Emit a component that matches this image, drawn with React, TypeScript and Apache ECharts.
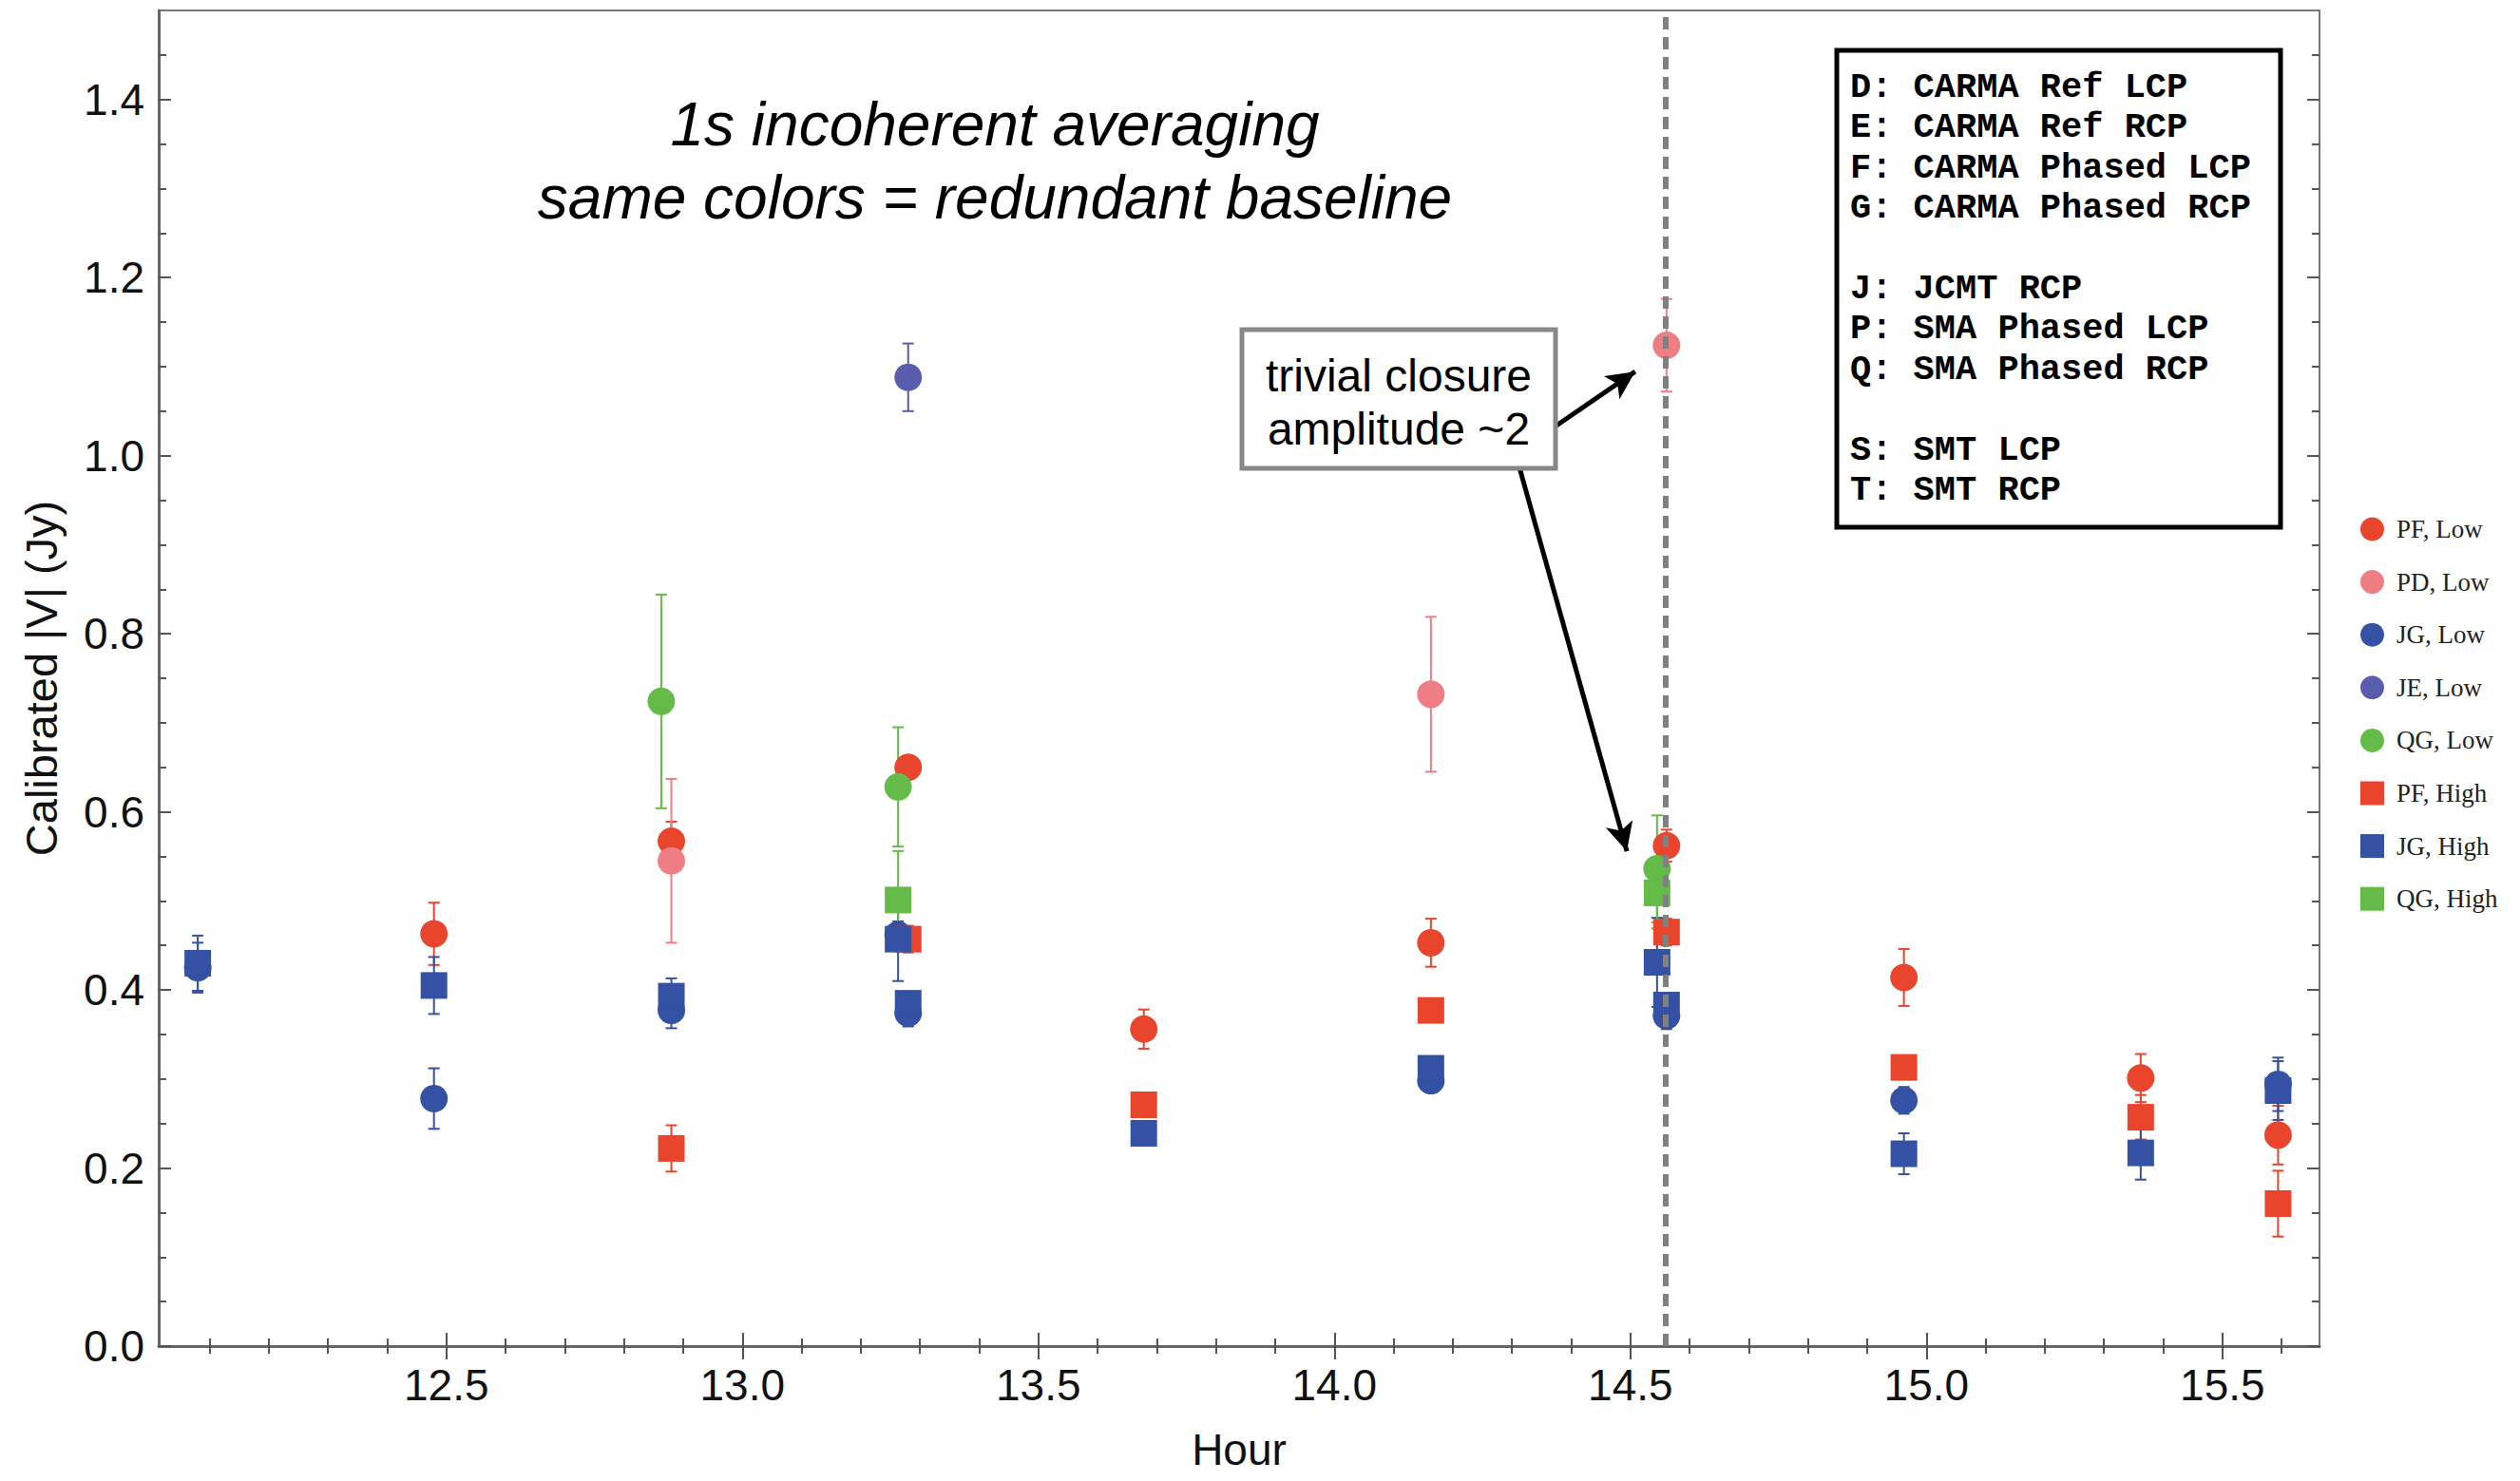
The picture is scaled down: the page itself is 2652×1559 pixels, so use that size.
import React, { useEffect, useRef } from "react";
import * as echarts from "echarts";

// ---- axis ranges & ticks ----
const X_MIN = 12.014;
const X_MAX = 15.664;
const Y_MIN = 0;
const Y_MAX = 1.5;
const xMajorTicks = [12.5, 13.0, 13.5, 14.0, 14.5, 15.0, 15.5];
const xMinorTicks = [12.1, 12.2, 12.3, 12.4, 12.6, 12.7, 12.8, 12.9, 13.1, 13.2, 13.3, 13.4, 13.6, 13.7, 13.8, 13.9, 14.1, 14.2, 14.3, 14.4, 14.6, 14.7, 14.8, 14.9, 15.1, 15.2, 15.3, 15.4, 15.6];
const yMajorTicks = [0, 0.2, 0.4, 0.6, 0.8, 1.0, 1.2, 1.4];
const yMinorTicks = [0.05, 0.1, 0.15, 0.25, 0.3, 0.35, 0.45, 0.5, 0.55, 0.65, 0.7, 0.75, 0.85, 0.9, 0.95, 1.05, 1.1, 1.15, 1.25, 1.3, 1.35, 1.45];

// ---- series: [hour, |V|, error] ----
const pfLow = [
  [12.479, 0.463, 0.035], [12.88, 0.567, 0.022], [13.28, 0.65, 0.01], [13.678, 0.356, 0.022],
  [14.163, 0.453, 0.027], [14.561, 0.562, 0.018], [14.962, 0.414, 0.032], [15.362, 0.301, 0.027],
  [15.594, 0.237, 0.033],
];
const pdLow = [[12.88, 0.545, 0.092], [14.163, 0.732, 0.087], [14.561, 1.124, 0.052]];
const jgLow = [
  [12.08, 0.425, 0.028], [12.479, 0.278, 0.034], [12.88, 0.377, 0.02], [13.263, 0.462, 0.015],
  [13.28, 0.374, 0.015], [14.163, 0.298, 0.012], [14.561, 0.371, 0.015], [14.962, 0.276, 0.015],
  [15.594, 0.294, 0.03],
];
const jeLow = [[13.28, 1.088, 0.038]];
const qgLow = [[12.863, 0.724, 0.12], [13.263, 0.628, 0.067], [14.545, 0.536, 0.06]];
const pfHigh = [
  [12.88, 0.222, 0.026], [13.28, 0.457, 0.015], [13.678, 0.271, 0.012], [14.163, 0.377, 0.01],
  [14.561, 0.465, 0.015], [14.962, 0.313, 0.012], [15.362, 0.257, 0.025], [15.594, 0.16, 0.037],
];
const jgHigh = [
  [12.08, 0.43, 0.031], [12.479, 0.405, 0.032], [12.88, 0.393, 0.02], [13.263, 0.457, 0.047],
  [13.28, 0.385, 0.012], [13.678, 0.239, 0.01], [14.163, 0.312, 0.01], [14.545, 0.431, 0.05],
  [14.561, 0.383, 0.012], [14.962, 0.216, 0.023], [15.362, 0.217, 0.03], [15.594, 0.287, 0.033],
];
const qgHigh = [[13.263, 0.501, 0.055], [14.545, 0.509, 0.04]];

const seriesNames = ["PF, Low", "PD, Low", "JG, Low", "JE, Low", "QG, Low", "PF, High", "JG, High", "QG, High"];
const seriesData = [pfLow, pdLow, jgLow, jeLow, qgLow, pfHigh, jgHigh, qgHigh];
const seriesShapes = ["circle", "circle", "circle", "circle", "circle", "rect", "rect", "rect"];
const seriesColors = ["#E9452C", "#EF7D84", "#3451A3", "#5A5DAD", "#64BB47", "#E9452C", "#3451A3", "#64BB47"];

// ---- annotations ----
const refLineHour = 14.56;
const arrowSegments = [
  [[14.372, 1.0325], [14.508, 1.0944]],
  [[14.313, 0.9856], [14.494, 0.5557]],
];
const titleLines = ["1s incoherent averaging", "same colors = redundant baseline"];
const noteLines = ["trivial closure", "amplitude ~2"];
const keyLines = [
  "D: CARMA Ref LCP",
  "E: CARMA Ref RCP",
  "F: CARMA Phased LCP",
  "G: CARMA Phased RCP",
  "",
  "J: JCMT RCP",
  "P: SMA Phased LCP",
  "Q: SMA Phased RCP",
  "",
  "S: SMT LCP",
  "T: SMT RCP",
];

const W = 2652;
const H = 1559;
const GRID = { left: 167, right: 211, top: 11, bottom: 142 };

export default function App() {
  const ref = useRef<HTMLDivElement>(null);

  useEffect(() => {
    if (!ref.current) return;
    const chart = echarts.init(ref.current, null, { renderer: "svg" });

    const tickStyle = { color: "#555", width: 2 };
    const sans = "Liberation Sans";
    const hiddenAxis = {
      type: "value",
      splitLine: { show: false },
      axisLine: { show: false },
      axisLabel: { show: false },
    };
    const xBase = { ...hiddenAxis, min: X_MIN, max: X_MAX, gridIndex: 0 };
    const yBase = { ...hiddenAxis, min: Y_MIN, max: Y_MAX, gridIndex: 0 };

    const errRender = (color: string) => (params: any, api: any) => {
      const x = api.value(0);
      const y = api.value(1);
      const e = api.value(2);
      const top = api.coord([x, y + e]);
      const bot = api.coord([x, y - e]);
      const cw = 6;
      const style = { stroke: color, lineWidth: 2 };
      return {
        type: "group",
        children: [
          { type: "line", shape: { x1: top[0], y1: top[1], x2: bot[0], y2: bot[1] }, style },
          { type: "line", shape: { x1: top[0] - cw, y1: top[1], x2: top[0] + cw, y2: top[1] }, style },
          { type: "line", shape: { x1: bot[0] - cw, y1: bot[1], x2: bot[0] + cw, y2: bot[1] }, style },
        ],
      };
    };

    const series: any[] = [
      {
        name: "__refline",
        type: "scatter",
        data: [],
        z: 1,
        silent: true,
        markLine: {
          silent: true,
          symbol: ["none", "none"],
          label: { show: false },
          lineStyle: { color: "#808080", width: 6, type: [13, 8] },
          emphasis: { disabled: true },
          data: [{ xAxis: refLineHour }],
        },
      },
    ];
    seriesNames.forEach((name, i) => {
      series.push({
        name: name + " err",
        type: "custom",
        renderItem: errRender(seriesColors[i]),
        encode: { x: 0, y: 1 },
        data: seriesData[i],
        z: 2,
        silent: true,
      });
      series.push({
        name,
        type: "scatter",
        symbol: seriesShapes[i],
        symbolSize: seriesShapes[i] === "circle" ? 29 : 28,
        itemStyle: { color: seriesColors[i], opacity: 1 },
        data: seriesData[i].map((d) => [d[0], d[1]]),
        z: 2,
        silent: true,
      });
    });
    series.push({
      name: "__arrows",
      type: "scatter",
      data: [],
      z: 5,
      silent: true,
      markLine: {
        silent: true,
        symbol: ["none", "arrow"],
        symbolSize: [22, 30],
        label: { show: false },
        lineStyle: { color: "#000", width: 5, type: "solid" },
        emphasis: { disabled: true },
        data: arrowSegments.map((seg) => [{ coord: seg[0] }, { coord: seg[1] }]),
      },
    });

    const option: any = {
      animation: false,
      backgroundColor: "#fff",
      grid: {
        ...GRID,
        show: true,
        borderColor: "#777",
        borderWidth: 2,
        backgroundColor: "#fff",
        containLabel: false,
        outerBoundsMode: "none",
      },
      legend: {
        orient: "vertical",
        left: 2479,
        top: 538,
        itemWidth: 25,
        itemHeight: 25,
        itemGap: 27.6,
        selectedMode: false,
        textStyle: {
          fontFamily: "Liberation Serif",
          fontSize: 27,
          color: "#222",
          lineHeight: 28,
          padding: [0, 0, 0, 8],
        },
        data: seriesNames.map((n, i) => ({ name: n, icon: seriesShapes[i] })),
      },
      xAxis: [
        {
          ...xBase,
          position: "bottom",
          axisLine: { show: true, onZero: false, lineStyle: { color: "#666", width: 3 } },
          axisTick: { show: true, inside: true, length: 14, customValues: xMajorTicks, lineStyle: tickStyle },
          axisLabel: {
            show: true,
            customValues: xMajorTicks,
            formatter: (v: number) => v.toFixed(1),
            fontFamily: sans,
            fontSize: 46,
            color: "#111",
            margin: 18,
          },
          name: "Hour",
          nameLocation: "middle",
          nameGap: 86,
          nameTextStyle: { fontFamily: sans, fontSize: 46, color: "#111" },
        },
        { ...xBase, position: "bottom", axisTick: { show: true, inside: true, length: 8, customValues: xMinorTicks, lineStyle: tickStyle } },
        { ...xBase, position: "top", axisTick: { show: true, inside: true, length: 14, customValues: xMajorTicks, lineStyle: tickStyle } },
        { ...xBase, position: "top", axisTick: { show: true, inside: true, length: 8, customValues: xMinorTicks, lineStyle: tickStyle } },
      ],
      yAxis: [
        {
          ...yBase,
          position: "left",
          axisLine: { show: true, onZero: false, lineStyle: { color: "#666", width: 3 } },
          axisTick: { show: true, inside: true, length: 13, customValues: yMajorTicks, lineStyle: tickStyle },
          axisLabel: {
            show: true,
            customValues: yMajorTicks,
            formatter: (v: number) => v.toFixed(1),
            fontFamily: sans,
            fontSize: 46,
            color: "#111",
            margin: 15,
          },
          name: "Calibrated |V| (Jy)",
          nameLocation: "middle",
          nameGap: 100,
          nameTextStyle: { fontFamily: sans, fontSize: 47, color: "#111" },
        },
        { ...yBase, position: "left", axisTick: { show: true, inside: true, length: 8, customValues: yMinorTicks, lineStyle: tickStyle } },
        { ...yBase, position: "right", axisTick: { show: true, inside: true, length: 13, customValues: yMajorTicks, lineStyle: tickStyle } },
        { ...yBase, position: "right", axisTick: { show: true, inside: true, length: 8, customValues: yMinorTicks, lineStyle: tickStyle } },
      ],
      series,
      graphic: [
        {
          type: "text",
          x: 1047,
          y: 169.7,
          z: 10,
          silent: true,
          style: {
            text: titleLines.join("\n"),
            fontFamily: sans,
            fontStyle: "italic",
            fontSize: 64,
            lineHeight: 77,
            fill: "#000",
            textAlign: "center",
            textVerticalAlign: "middle",
          },
        },
        {
          type: "rect",
          z: 10,
          silent: true,
          shape: { x: 1307, y: 347, width: 330, height: 146 },
          style: { fill: "#fff", stroke: "#888", lineWidth: 5 },
        },
        {
          type: "text",
          x: 1472,
          y: 423,
          z: 11,
          silent: true,
          style: {
            text: noteLines.join("\n"),
            fontFamily: sans,
            fontSize: 48,
            lineHeight: 56,
            fill: "#000",
            textAlign: "center",
            textVerticalAlign: "middle",
          },
        },
        {
          type: "rect",
          z: 10,
          silent: true,
          shape: { x: 1933, y: 53, width: 467, height: 502 },
          style: { fill: "#fff", stroke: "#000", lineWidth: 5 },
        },
        {
          type: "text",
          x: 1947,
          y: 92 - 21.2,
          z: 11,
          silent: true,
          style: {
            text: keyLines.join("\n"),
            fontFamily: "Liberation Mono",
            fontWeight: "bold",
            fontSize: 37,
            lineHeight: 42.4,
            fill: "#000",
            textAlign: "left",
            textVerticalAlign: "top",
          },
        },
      ],
    };

    chart.setOption(option);
    return () => {
      chart.dispose();
    };
  }, []);

  return (
    <div
      ref={ref}
      style={{ position: "fixed", left: 0, top: 0, width: W, height: H, background: "#fff" }}
    />
  );
}
